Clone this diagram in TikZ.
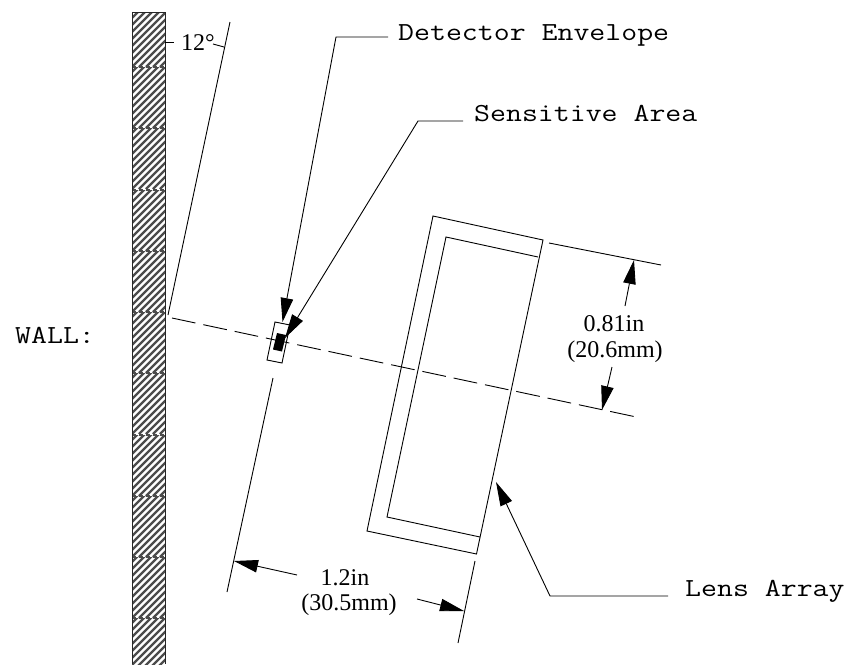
\documentclass[tikz,border=0pt]{standalone}
\usepackage{fontspec}
\setmainfont{Liberation Serif}
\usetikzlibrary{arrows.meta}
\tikzset{
  thin line/.style={line width=0.9pt,black},
  lead/.style={thin line,-{Triangle[length=24pt,width=12.5pt]},shorten >=0pt},
  dim/.style={font=\fontsize{24}{25}\selectfont,inner sep=0pt,anchor=base},
  mono/.style={font=\fontsize{26}{28}\ttfamily,inner sep=0pt,anchor=base west,xscale=1.19,transform shape},
}
\begin{document}
\begin{tikzpicture}[x=1pt,y=-1pt]
\useasboundingbox (0,0) rectangle (851,664);
\fill[white] (0,0) rectangle (851,664);
% wall hatch
\foreach \t in {6,67,128,190,251,312,373,435,496,557,618}{
  \begin{scope}
    \clip (132,{max(\t,12)}) rectangle (165,{min(\t+61.5,664)});
    \foreach \k in {-10,...,6}{
      \draw[line width=2.4pt,black!70,line cap=square] ({132+\k*7},{\t+61}) -- ++(62,-62);
    }
  \end{scope}
}
\foreach \t in {67,128,190,251,312,373,435,496,557,618}{
  \draw[line width=1.2pt,black!70,dash pattern=on 4pt off 3pt] (132,\t) -- (165,\t);
}
\draw[thin line,black!85] (132,664) -- (132,12) -- (165,12) -- (165,664);
% coordinates
\coordinate (tickA) at (165,42);
\coordinate (tickB) at (174,42);
\coordinate (angA) at (213,44);
\coordinate (angB) at (224,47);
\coordinate (extT) at (230,22);
\coordinate (extB) at (168,315);
\coordinate (cS) at (172,318);
\coordinate (cE) at (634,416.5);
\coordinate (lTL) at (433,216);
\coordinate (lTR) at (543,240);
\coordinate (lBR) at (476.5,554);
\coordinate (lBL) at (367,531);
\coordinate (iA) at (538,257);
\coordinate (iB) at (446,237);
\coordinate (iC) at (387,517);
\coordinate (iD) at (480,537);
\coordinate (dA) at (275,322);
\coordinate (dB) at (290,325);
\coordinate (dC) at (282,363);
\coordinate (dD) at (267,360);
\coordinate (sA) at (277,333);
\coordinate (sB) at (286,335);
\coordinate (sC) at (282,351.5);
\coordinate (sD) at (273,349.5);
\coordinate (exA) at (273,378);
\coordinate (exB) at (227,592);
\coordinate (exC) at (475,561);
\coordinate (exD) at (458,643);
\coordinate (exE) at (549,243);
\coordinate (exF) at (661,265);
% texts
\node[mono] (detT) at (398,40) {Detector Envelope};
\node[mono] (senT) at (474,121) {Sensitive Area};
\node[mono] (lensT) at (685,596) {Lens Array};
\node[mono] (wallT) at (15,343) {WALL:};
\node[dim] (ang) at (198,50) {12°};
\node[dim] (d1) at (614,331) {0.81in};
\node[dim] (d2) at (615,357) {(20.6mm)};
\node[dim] (w1) at (345,585) {1.2in};
\node[dim] (w2) at (349,610) {(30.5mm)};
% lines
\draw[thin line] (tickA) -- (tickB);
\draw[thin line] (angA) -- (angB);
\draw[thin line] (extT) -- (extB);
\draw[thin line,dash pattern=on 24pt off 8pt] (cS) -- (cE);
\draw[thin line] (lTL) -- (lTR) -- (lBR) -- (lBL) -- cycle;
\draw[thin line] (iA) -- (iB) -- (iC) -- (iD);
\draw[thin line] (dA) -- (dB) -- (dC) -- (dD) -- cycle;
\fill[black] (sA) -- (sB) -- (sC) -- (sD) -- cycle;
\draw[thin line] (exA) -- (exB);
\draw[thin line] (exC) -- (exD);
\draw[thin line] (exE) -- (exF);
% leaders
\coordinate (la) at (388,37);
\coordinate (lb) at (336,37);
\coordinate (lc) at (282.5,322);
\draw[lead] (la) -- (lb) -- (lc);
\coordinate (ma) at (463,121);
\coordinate (mb) at (418,121);
\coordinate (mc) at (285,338);
\draw[lead] (ma) -- (mb) -- (mc);
\coordinate (na) at (668,596);
\coordinate (nb) at (550,596);
\coordinate (nc) at (496,482);
\draw[lead] (na) -- (nb) -- (nc);
% dimension arrows
\coordinate (a1) at (625,306);
\coordinate (a2) at (634,260);
\draw[lead] (a1) -- (a2);
\coordinate (b1) at (612,367);
\coordinate (b2) at (602,410);
\draw[lead] (b1) -- (b2);
\coordinate (c1) at (297,575);
\coordinate (c2) at (234,561);
\draw[lead] (c1) -- (c2);
\coordinate (e1) at (417,599);
\coordinate (e2) at (464,611);
\draw[lead] (e1) -- (e2);
\end{tikzpicture}
\end{document}
